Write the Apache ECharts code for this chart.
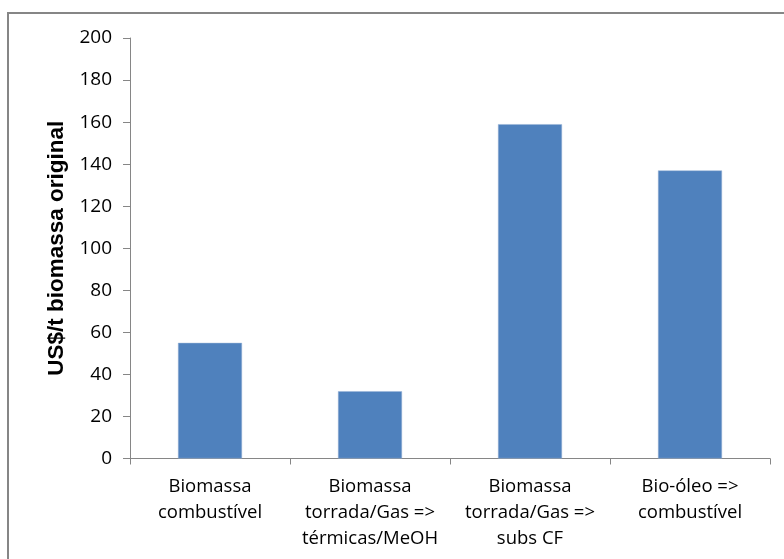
<!DOCTYPE html>
<html><head><meta charset="utf-8">
<script src="https://cdn.jsdelivr.net/npm/echarts@6/dist/echarts.min.js"></script>
<style>html,body{margin:0;padding:0;background:#fff}#c{width:784px;height:559px}</style>
</head><body><div id="c"></div>
<script>
const categories = ["Biomassa\ncombustível", "Biomassa\ntorrada/Gas =>\ntérmicas/MeOH", "Biomassa\ntorrada/Gas =>\nsubs CF", "Bio-óleo =>\ncombustível"];
const values = [55, 32, 159, 137];
const yTitle = "US$/t biomassa original";
const FONT = "'Open Sans', sans-serif";
const chart = echarts.init(document.getElementById('c'), null, {renderer: 'canvas'});
chart.setOption({
  animation: false,
  backgroundColor: '#fff',
  graphic: [{type: 'rect', shape: {x: 8, y: 13, width: 800, height: 600}, style: {fill: 'none', stroke: '#868686', lineWidth: 2}, silent: true}],
  grid: {left: 130, right: 14, top: 38, bottom: 100.5, containLabel: false},
  xAxis: {
    type: 'category', data: categories,
    axisLine: {lineStyle: {color: '#868686'}},
    axisTick: {show: true, length: 6, lineStyle: {color: '#868686'}},
    axisLabel: {color: '#000', fontFamily: FONT, fontSize: 18.5, lineHeight: 26, margin: 15, interval: 0}
  },
  yAxis: {
    type: 'value', min: 0, max: 200, interval: 20,
    name: yTitle, nameLocation: 'middle', nameGap: 54, nameRotate: 90,
    nameTextStyle: {color: '#000', fontFamily: "'Liberation Sans', Arial, sans-serif", fontWeight: 'bold', fontSize: 22.5},
    axisLine: {show: true, lineStyle: {color: '#868686'}},
    axisTick: {show: true, length: 7, lineStyle: {color: '#868686'}},
    splitLine: {show: false},
    axisLabel: {color: '#000', fontFamily: FONT, fontSize: 19, margin: 18}
  },
  series: [{
    type: 'bar', data: values, barWidth: '40%',
    itemStyle: {color: '#4F81BD', borderColor: '#9bb5d6', borderWidth: 0.5}
  }]
});
</script></body></html>
